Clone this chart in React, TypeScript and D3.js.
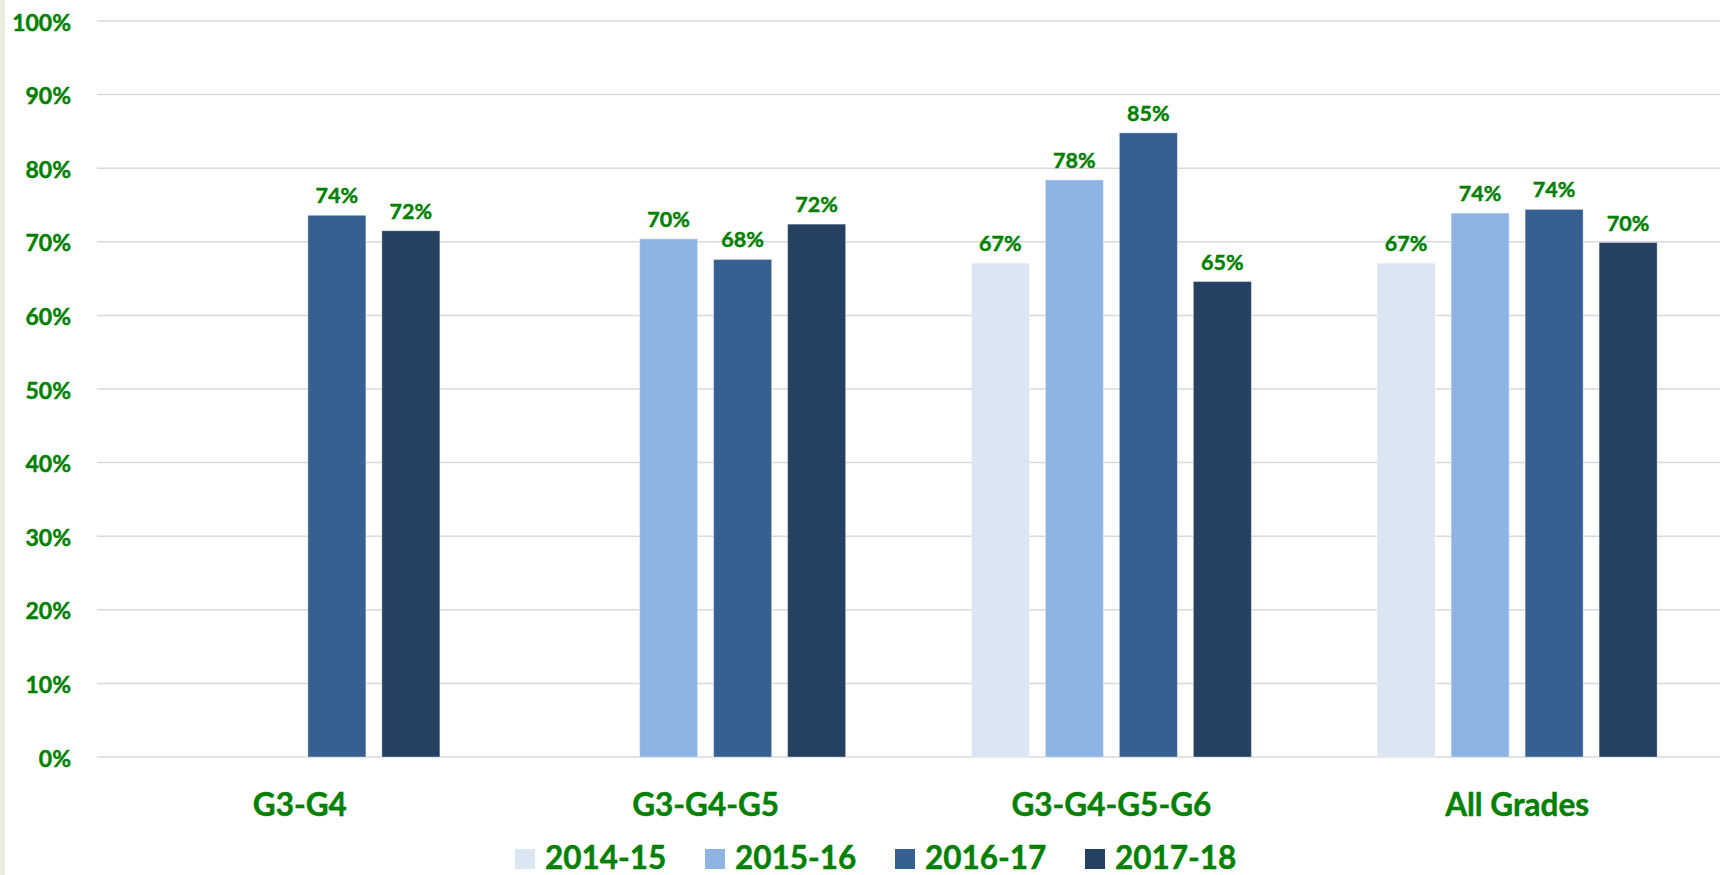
import React, { useEffect, useRef } from 'react'
import * as d3 from 'd3'

const categories = ['G3-G4', 'G3-G4-G5', 'G3-G4-G5-G6', 'All Grades']
const years = ['2014-15', '2015-16', '2016-17', '2017-18']
const yearColors = ['#dce6f2', '#8eb4e3', '#376092', '#254061']

// percent values per category, one per school year (null = no bar)
const g3g4 = [null, null, 73.6, 71.5]
const g3g4g5 = [null, 70.4, 67.6, 72.4]
const g3g4g5g6 = [67.1, 78.4, 84.8, 64.6]
const allGrades = [67.1, 73.9, 74.4, 69.9]
const seriesByCategory = [g3g4, g3g4g5, g3g4g5g6, allGrades]

const yTicks = [0, 10, 20, 30, 40, 50, 60, 70, 80, 90, 100]

const W = 1733
const H = 875
const GREEN = '#008000'
const FONT = 'Lato, "Open Sans", sans-serif'

export default function App() {
  const ref = useRef<SVGSVGElement | null>(null)

  useEffect(() => {
    const svg = d3.select(ref.current)
    svg.selectAll('*').remove()

    const left = 97
    const right = 1720
    const top = 21
    const bottom = 757

    svg.append('rect').attr('width', W).attr('height', H).attr('fill', '#fff')
    svg.append('rect').attr('width', 5).attr('height', H).attr('fill', '#eeece1')

    const x0 = d3.scaleBand<string>().domain(categories).range([left, right]).padding(0)
    const groupW = 296
    const x1 = d3.scaleBand<string>()
      .domain(years)
      .range([x0.bandwidth() / 2 - groupW / 2, x0.bandwidth() / 2 + groupW / 2])
      .paddingInner(16 / 74)
      .paddingOuter(8 / 74)
    const y = d3.scaleLinear().domain([0, 100]).range([bottom, top])

    const label = (sel: any, size: number) =>
      sel.attr('font-family', FONT)
        .attr('font-weight', 700)
        .attr('font-size', size)
        .attr('fill', GREEN)
        .attr('stroke', GREEN)
        .attr('stroke-width', 0.45)

    // gridlines
    svg.append('g')
      .selectAll('line')
      .data(yTicks)
      .enter()
      .append('line')
      .attr('x1', left)
      .attr('x2', right)
      .attr('y1', d => y(d))
      .attr('y2', d => y(d))
      .attr('stroke', '#d9d9d9')
      .attr('stroke-width', 1.5)

    // y tick labels
    label(svg.append('g')
      .selectAll('text')
      .data(yTicks)
      .enter()
      .append('text')
      .attr('x', 71)
      .attr('y', d => y(d) + 9.5)
      .attr('text-anchor', 'end'), 23)
      .text((d: number) => `${d}%`)

    // bars + data labels
    const groups = svg.append('g')
      .selectAll('g')
      .data(categories)
      .enter()
      .append('g')
      .attr('transform', d => `translate(${x0(d)},0)`)

    const cells = (ci: number) =>
      seriesByCategory[ci]
        .map((v, i) => ({ year: years[i], color: yearColors[i], v }))
        .filter(d => d.v != null) as { year: string; color: string; v: number }[]

    groups.each(function (_c, ci) {
      const g = d3.select(this)
      const data = cells(ci)
      g.selectAll('rect')
        .data(data)
        .enter()
        .append('rect')
        .attr('x', d => x1(d.year) || 0)
        .attr('y', d => y(d.v))
        .attr('width', x1.bandwidth())
        .attr('height', d => bottom - y(d.v))
        .attr('fill', d => d.color)
        .attr('stroke', 'rgba(255,255,255,0.35)')
        .attr('stroke-width', 1)
      label(g.selectAll('text')
        .data(data)
        .enter()
        .append('text')
        .attr('x', d => (x1(d.year) || 0) + x1.bandwidth() / 2)
        .attr('y', d => y(d.v) - 12)
        .attr('text-anchor', 'middle'), 21.5)
        .text((d: any) => `${Math.round(d.v)}%`)
    })

    // category labels
    label(svg.append('g')
      .selectAll('text')
      .data(categories)
      .enter()
      .append('text')
      .attr('x', d => (x0(d) || 0) + x0.bandwidth() / 2)
      .attr('y', 816)
      .attr('text-anchor', 'middle'), 31.5)
      .text((d: string) => d)

    // legend
    const legend = svg.append('g')
      .selectAll('g')
      .data(years)
      .enter()
      .append('g')
      .attr('transform', (_d, i) => `translate(${515 + i * 190},0)`)
    legend.append('rect')
      .attr('x', 0)
      .attr('y', 849)
      .attr('width', 20)
      .attr('height', 20)
      .attr('fill', (_d, i) => yearColors[i])
    label(legend.append('text')
      .attr('x', 30)
      .attr('y', 869), 31.5)
      .text((d: string) => d)
  }, [])

  return (
    <div>
      <style>{`body{margin:0}`}</style>
      <svg ref={ref} width={W} height={H} style={{ display: 'block' }} />
    </div>
  )
}
